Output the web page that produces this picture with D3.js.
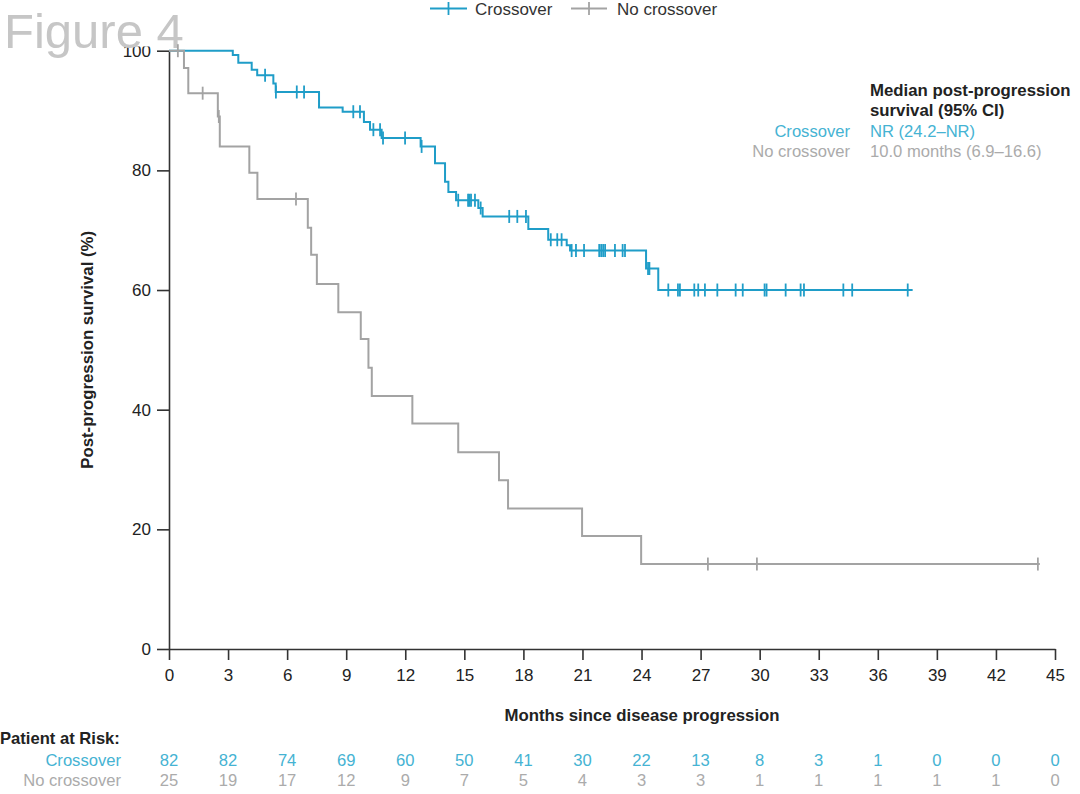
<!DOCTYPE html>
<html>
<head>
<meta charset="utf-8">
<script src="https://cdn.jsdelivr.net/npm/d3@7"></script>
<style>
  html, body { margin: 0; padding: 0; background: #fff; }
  svg text { font-family: "Liberation Sans", Arial, Helvetica, sans-serif; }
</style>
</head>
<body>
<svg id="chart" width="1080" height="794"></svg>
<script>
// ---------- DATA ----------
const monthTicks = [0, 3, 6, 9, 12, 15, 18, 21, 24, 27, 30, 33, 36, 39, 42, 45];
const survivalTicks = [0, 20, 40, 60, 80, 100];

// Crossover: step times (months) and survival (%) after each step
const crossoverTimes = [0, 3.24, 3.52, 4.20, 4.48, 5.30, 5.42, 7.62, 8.82, 9.90, 10.21, 10.80, 12.78, 13.51, 14.02, 14.19, 14.58, 15.71, 15.93, 18.25, 19.26, 20.20, 20.37, 24.23, 24.85];
const crossoverSurv  = [100, 99.3, 98.0, 96.8, 95.9, 94.5, 93.1, 90.5, 89.8, 88.1, 86.8, 85.4, 84.0, 81.2, 78.1, 76.4, 75.0, 73.7, 72.3, 70.2, 68.4, 67.5, 66.6, 63.6, 60.0];
const crossoverEnd = 37.77;
const crossoverCensored = [4.88, 5.43, 6.49, 6.86, 9.36, 9.70, 10.38, 10.72, 10.87, 11.99, 12.83, 14.69, 15.19, 15.26, 15.34, 15.54, 15.83, 17.28, 17.69, 18.13, 19.39, 19.72, 19.94, 20.45, 20.67, 21.08, 21.85, 21.95, 22.05, 22.15, 22.65, 23.04, 23.16, 24.33, 24.40, 25.36, 25.85, 25.95, 26.68, 26.88, 27.22, 27.85, 28.78, 29.14, 30.25, 30.35, 31.32, 32.08, 32.25, 34.25, 34.70, 37.52];

// No crossover
const noCrossoverTimes = [0, 0.76, 0.98, 2.48, 2.58, 4.08, 4.49, 7.05, 7.22, 7.51, 8.60, 9.74, 10.13, 10.30, 12.36, 14.69, 16.76, 17.22, 20.98, 23.98];
const noCrossoverSurv  = [100, 97.1, 92.9, 89.0, 84.0, 79.6, 75.2, 70.4, 65.9, 61.0, 56.3, 51.8, 47.0, 42.3, 37.7, 32.9, 28.2, 23.5, 18.9, 14.2];
const noCrossoverEnd = 44.23;
const noCrossoverCensored = [0.45, 1.71, 2.53, 6.45, 27.37, 29.86, 44.13];

// Patients at risk
const riskCrossover   = [82, 82, 74, 69, 60, 50, 41, 30, 22, 13, 8, 3, 1, 0, 0, 0];
const riskNoCrossover = [25, 19, 17, 12, 9, 7, 5, 4, 3, 3, 1, 1, 1, 1, 1, 0];

const seriesNames = ["Crossover", "No crossover"];
const medianTexts = ["NR (24.2\u2013NR)", "10.0 months (6.9\u201316.6)"];

// ---------- STYLE ----------
const BLUE = "#1f9dc8";
const BLUE_TEXT = "#45b3d3";
const GRAY = "#a3a3a3";
const GRAY_TEXT = "#ababab";
const AXIS = "#333";
const FS = 17;

const svg = d3.select("#chart");
const x = d3.scaleLinear().domain([0, 45]).range([169, 1055]);
const y = d3.scaleLinear().domain([0, 100]).range([649, 50.7]);

// Axes
const xAxis = d3.axisBottom(x).tickValues(monthTicks).tickSize(11).tickPadding(9).tickSizeOuter(0);
const yAxis = d3.axisLeft(y).tickValues(survivalTicks).tickSize(12).tickPadding(6).tickSizeOuter(0);

const gx = svg.append("g").attr("transform", `translate(0,${y(0)})`).call(xAxis);
const gy = svg.append("g").attr("transform", `translate(${x(0)},0)`).call(yAxis);
[gx, gy].forEach(g => {
  g.selectAll("path.domain").attr("stroke", AXIS).attr("stroke-width", 1.6);
  g.selectAll(".tick line").attr("stroke", AXIS).attr("stroke-width", 1.6);
  g.selectAll(".tick text").attr("fill", "#222").style("font-size", FS + "px")
    .style("font-family", '"Liberation Sans", Arial, sans-serif');
});

// Axis titles
svg.append("text")
  .attr("x", 642).attr("y", 721)
  .attr("text-anchor", "middle")
  .style("font-size", "16.8px").style("font-weight", "bold").attr("fill", "#222")
  .text("Months since disease progression");

svg.append("text")
  .attr("transform", `translate(93,${(y(0) + y(100)) / 2}) rotate(-90)`)
  .attr("text-anchor", "middle")
  .style("font-size", "16.8px").style("font-weight", "bold").attr("fill", "#222")
  .text("Post-progression survival (%)");

// "Figure 4" watermark-style title with white backdrop
svg.append("rect").attr("x", 0).attr("y", 0).attr("width", 183).attr("height", 46.5).attr("fill", "#fff");
svg.append("text")
  .attr("x", 4).attr("y", 48)
  .style("font-size", "49px").attr("fill", "#c6c6c6")
  .text("Figure 4");

// Curves
function stepPoints(times, surv, end) {
  const pts = times.map((t, i) => [t, surv[i]]);
  pts.push([end, surv[surv.length - 1]]);
  return pts;
}
function survAt(times, surv, t) {
  let v = surv[0];
  for (let i = 0; i < times.length; i++) { if (times[i] <= t) v = surv[i]; }
  return v;
}
const line = d3.line().x(d => x(d[0])).y(d => y(d[1])).curve(d3.curveStepAfter);

const series = [
  { times: crossoverTimes, surv: crossoverSurv, end: crossoverEnd, cens: crossoverCensored, color: BLUE },
  { times: noCrossoverTimes, surv: noCrossoverSurv, end: noCrossoverEnd, cens: noCrossoverCensored, color: GRAY }
];

series.forEach(s => {
  const g = svg.append("g");
  g.append("path")
    .datum(stepPoints(s.times, s.surv, s.end))
    .attr("d", line)
    .attr("fill", "none")
    .attr("stroke", s.color)
    .attr("stroke-width", 2);
  g.selectAll("line.cens")
    .data(s.cens)
    .join("line")
    .attr("class", "cens")
    .attr("x1", d => x(d)).attr("x2", d => x(d))
    .attr("y1", d => y(survAt(s.times, s.surv, d)) - 6.5)
    .attr("y2", d => y(survAt(s.times, s.surv, d)) + 6.5)
    .attr("stroke", s.color)
    .attr("stroke-width", 1.8);
});

// Legend
const legendItems = [
  { name: seriesNames[0], color: BLUE, x0: 430, x1: 467, tx: 475 },
  { name: seriesNames[1], color: GRAY, x0: 571, x1: 607, tx: 617 }
];
legendItems.forEach(it => {
  svg.append("line").attr("x1", it.x0).attr("x2", it.x1).attr("y1", 8.5).attr("y2", 8.5)
    .attr("stroke", it.color).attr("stroke-width", 2);
  const cx = (it.x0 + it.x1) / 2;
  svg.append("line").attr("x1", cx).attr("x2", cx).attr("y1", 2).attr("y2", 15)
    .attr("stroke", it.color).attr("stroke-width", 1.8);
  svg.append("text").attr("x", it.tx).attr("y", 14.5)
    .style("font-size", FS + "px").attr("fill", "#333").text(it.name);
});

// Median annotation
svg.append("text").attr("x", 870).attr("y", 96)
  .style("font-size", "16.8px").style("font-weight", "bold").attr("fill", "#222")
  .text("Median post-progression");
svg.append("text").attr("x", 870).attr("y", 116)
  .style("font-size", "16.8px").style("font-weight", "bold").attr("fill", "#222")
  .text("survival (95% CI)");
[[seriesNames[0], medianTexts[0], BLUE_TEXT, 136.5], [seriesNames[1], medianTexts[1], GRAY_TEXT, 156.5]].forEach(r => {
  svg.append("text").attr("x", 850).attr("y", r[3]).attr("text-anchor", "end")
    .style("font-size", "16.6px").attr("fill", r[2]).text(r[0]);
  svg.append("text").attr("x", 870).attr("y", r[3])
    .style("font-size", "16.6px").attr("fill", r[2]).text(r[1]);
});

// Risk table
svg.append("text").attr("x", 0).attr("y", 744)
  .style("font-size", "16.6px").style("font-weight", "bold").attr("fill", "#222")
  .text("Patient at Risk:");
const riskRows = [
  { name: seriesNames[0], vals: riskCrossover, color: BLUE_TEXT, yb: 766 },
  { name: seriesNames[1], vals: riskNoCrossover, color: GRAY_TEXT, yb: 785.5 }
];
riskRows.forEach(r => {
  svg.append("text").attr("x", 121).attr("y", r.yb).attr("text-anchor", "end")
    .style("font-size", "16.6px").attr("fill", r.color).text(r.name);
  svg.append("g").selectAll("text")
    .data(r.vals)
    .join("text")
    .attr("x", (d, i) => x(monthTicks[i]))
    .attr("y", r.yb)
    .attr("text-anchor", "middle")
    .style("font-size", "16.6px")
    .attr("fill", r.color)
    .text(d => d);
});
</script>
</body>
</html>
